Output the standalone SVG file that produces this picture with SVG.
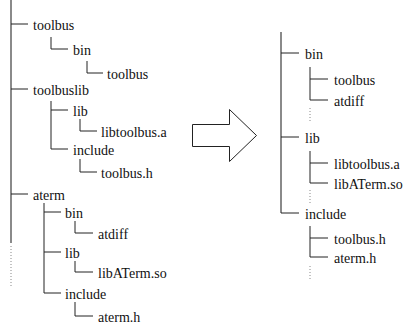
<svg xmlns="http://www.w3.org/2000/svg" width="403" height="326" viewBox="0 0 403 326">
  <style>
    text { font-family: "Liberation Serif", "Times New Roman", "DejaVu Serif", serif; font-size: 14px; fill: #111; }
    .trunk { stroke: #8a8a8a; stroke-width: 2; fill: none; }
    .branch { stroke: #222; stroke-width: 1; fill: none; }
    .dots { stroke: #888; stroke-width: 1; stroke-dasharray: 1 2; fill: none; }
    .arrow { stroke: #222; stroke-width: 1; fill: #fff; }
  </style>
  <rect width="403" height="326" fill="#fff"/>

  <!-- connectors of both trees -->
  <g id="connectors">
    <!-- left tree trunk -->
    <path class="trunk" d="M11,0 V243"/>
    <path class="dots" d="M11,246 V288"/>
    <path class="branch" d="M11,24 H28 M11,89 H28 M11,194 H28"/>
    <!-- toolbus subtree -->
    <path class="branch" d="M51,37 V49 H68"/>
    <path class="branch" d="M87,61 V73 H103"/>
    <!-- toolbuslib subtree -->
    <path class="branch" d="M51,101 V149 H68 M51,110 H68"/>
    <path class="branch" d="M80,119 V131 H97"/>
    <path class="branch" d="M80,159 V172 H97"/>
    <!-- aterm subtree -->
    <path class="branch" d="M44,203 V293 H61 M44,212 H61 M44,252 H61"/>
    <path class="branch" d="M75,221 V233 H93"/>
    <path class="branch" d="M75,261 V272 H93"/>
    <path class="branch" d="M75,302 V316 H93"/>

    <!-- right tree trunk -->
    <path class="trunk" d="M281,32 V213"/>
    <path class="branch" d="M281,213 H299 M281,53 H299 M281,137 H299"/>
    <!-- bin -->
    <path class="branch" d="M310,67 V100 H328 M310,79 H328"/>
    <path class="dots" d="M310,108 V121"/>
    <!-- lib -->
    <path class="branch" d="M310,151 V183 H328 M310,163 H328"/>
    <path class="dots" d="M310,190 V203"/>
    <!-- include -->
    <path class="branch" d="M310,226 V257 H328 M310,238 H328"/>
    <path class="dots" d="M310,266 V279"/>
  </g>

  <!-- block arrow between the trees -->
  <g id="transform-arrow">
    <path class="arrow" d="M192.5,124.5 H229.5 V109.5 L256.5,135.5 L229.5,161.5 V146.5 H192.5 Z"/>
  </g>

  <!-- left tree nodes -->
  <g font-family="Liberation Serif, serif">
    <g id="l-toolbus"><text x="33" y="30">toolbus</text></g>
    <g id="l-toolbus-bin"><text x="73" y="55">bin</text></g>
    <g id="l-toolbus-bin-toolbus"><text x="107" y="79">toolbus</text></g>
    <g id="l-toolbuslib"><text x="33" y="95">toolbuslib</text></g>
    <g id="l-toolbuslib-lib"><text x="73" y="116">lib</text></g>
    <g id="l-libtoolbus"><text x="101" y="137">libtoolbus.a</text></g>
    <g id="l-toolbuslib-include"><text x="73" y="155">include</text></g>
    <g id="l-toolbus-h"><text x="101" y="178">toolbus.h</text></g>
    <g id="l-aterm"><text x="33" y="200">aterm</text></g>
    <g id="l-aterm-bin"><text x="65" y="218">bin</text></g>
    <g id="l-atdiff"><text x="98" y="239">atdiff</text></g>
    <g id="l-aterm-lib"><text x="65" y="258">lib</text></g>
    <g id="l-libaterm"><text x="98" y="278">libATerm.so</text></g>
    <g id="l-aterm-include"><text x="65" y="299">include</text></g>
    <g id="l-aterm-h"><text x="98" y="322">aterm.h</text></g>
  </g>

  <!-- right tree nodes -->
  <g font-family="Liberation Serif, serif">
    <g id="r-bin"><text x="305" y="59">bin</text></g>
    <g id="r-toolbus"><text x="334" y="85">toolbus</text></g>
    <g id="r-atdiff"><text x="334" y="106">atdiff</text></g>
    <g id="r-lib"><text x="305" y="143">lib</text></g>
    <g id="r-libtoolbus"><text x="334" y="169">libtoolbus.a</text></g>
    <g id="r-libaterm"><text x="334" y="189">libATerm.so</text></g>
    <g id="r-include"><text x="305" y="219">include</text></g>
    <g id="r-toolbus-h"><text x="334" y="244">toolbus.h</text></g>
    <g id="r-aterm-h"><text x="334" y="263">aterm.h</text></g>
  </g>
</svg>
